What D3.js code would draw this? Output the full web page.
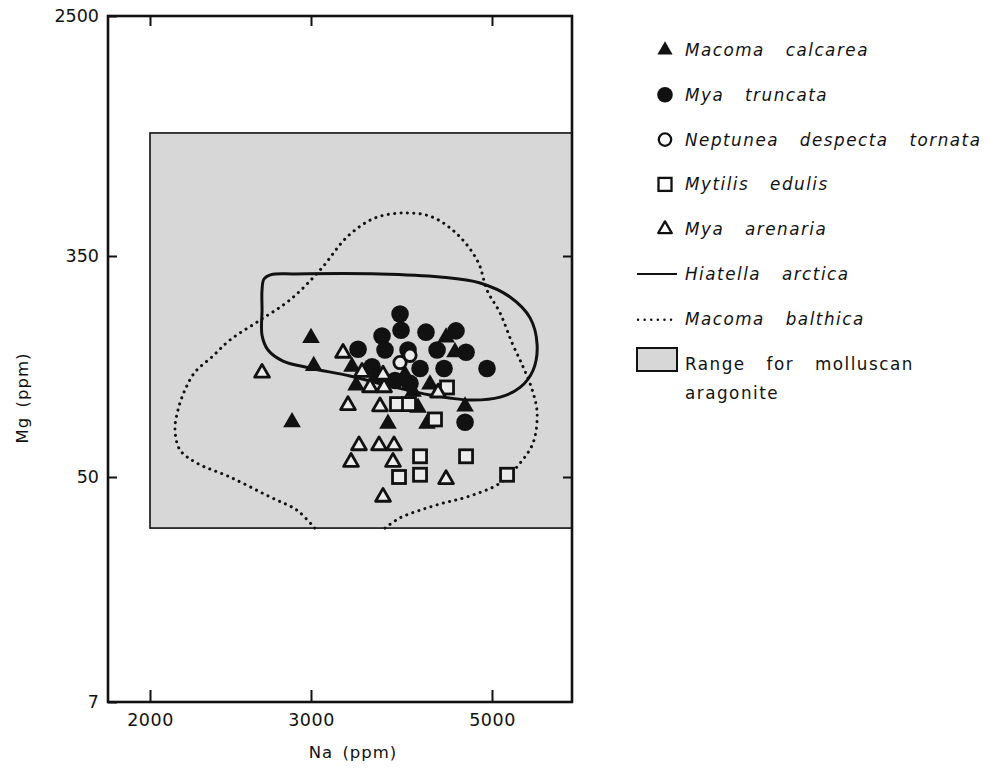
<!DOCTYPE html>
<html><head><meta charset="utf-8">
<script src="https://cdn.jsdelivr.net/npm/d3@7"></script>
<style>
body{margin:0;background:#fff}
text{font-family:"DejaVu Sans",sans-serif;fill:#111}
</style>
</head><body>
<svg id="chart" width="987" height="774"></svg>
<script>
// ---------- data (Na ppm, Mg ppm) ----------
const naTicks = [2000, 3000, 5000];
const mgTicks = [7, 50, 350, 2500];
const aragoniteNa = [2000, 6270];
const aragoniteMg = [32, 959];

const macomaCalcarea = [[3000,170],[3023,133],[2860,81],[3368,132],[3407,112],[3594,120],[3728,80],[3911,123],[4058,92],[4162,80],[4197,113],[4392,171],[4504,150],[4634,93],[4001,106]];
const myaTruncata = [[3857,210],[3666,173],[3868,182],[4150,179],[4517,181],[3426,154],[3697,153],[3945,153],[4282,153],[4647,150],[3564,132],[4081,130],[4367,130],[4930,130],[3803,117],[3967,114],[4634,81]];
const neptunea = [[3857,137],[3967,146]];
const mytilis = [[3824,95],[3956,95],[4257,83],[4404,110],[4081,60],[4647,60],[3846,50],[4081,51],[5217,51]];
const myaArenaria = [[2652,125],[3284,149],[3544,110],[3687,110],[3465,126],[3676,123],[3330,94],[3645,93],[3435,66],[3635,66],[3792,66],[3359,57],[3781,57],[4392,49],[3676,42],[4294,105]];
const hiatella = [[2652,217.6],[2652,259.5],[2665,285.8],[2713,297],[2882,299],[3645,299],[4318,291],[4834,276],[5261,244],[5567,203],[5679,160],[5615,128],[5412,110],[5115,101],[4699,98.5],[4197,103],[3749,111.4],[3349,121.7],[2990,130.6],[2796,138.8],[2692,153],[2652,174]];
const macomaBalthica = [[3031,32],[2896,37.4],[2706,42],[2446,50],[2251,56.5],[2157,63.4],[2130,75.6],[2146,90.2],[2184,107.6],[2240,126],[2338,144],[2446,167],[2639,199],[2846,238],[3077,309],[3330,412],[3594,478],[3911,498],[4221,482],[4542,416],[4807,332],[4930,259],[5115,212],[5291,163],[5458,132],[5599,108],[5679,88],[5615,67.5],[5412,56.5],[5115,47.4],[4660,42],[4355,39.8],[4081,37.4],[3857,35],[3697,32]];

const legendItems = [
  {label:"Macoma calcarea", kind:"ftri"},
  {label:"Mya truncata", kind:"fcirc"},
  {label:"Neptunea despecta tornata", kind:"ocirc"},
  {label:"Mytilis edulis", kind:"osq"},
  {label:"Mya arenaria", kind:"otri"},
  {label:"Hiatella arctica", kind:"solid"},
  {label:"Macoma balthica", kind:"dotted"}
];
const rangeLabel = ["Range for molluscan", "aragonite"];

// ---------- layout ----------
const L = 108, R = 572, T = 16, B = 702;
const GRAY = "#d7d7d7";
const svg = d3.select("#chart");

const x = d3.scaleLog().domain(naTicks).range([150, 311, 492]);
const y = d3.scaleLog().domain(mgTicks).range([702, 477, 256, 16]);

// aragonite range
svg.append("rect")
  .attr("x", x(aragoniteNa[0])).attr("y", y(aragoniteMg[1]))
  .attr("width", x(aragoniteNa[1]) - x(aragoniteNa[0]))
  .attr("height", y(aragoniteMg[0]) - y(aragoniteMg[1]))
  .attr("fill", GRAY).attr("stroke", "#111").attr("stroke-width", 1.6);

const line = d3.line().x(d => x(d[0])).y(d => y(d[1]));

svg.append("path").datum(macomaBalthica)
  .attr("d", line.curve(d3.curveCatmullRom.alpha(0.5)))
  .attr("fill", "none").attr("stroke", "#111").attr("stroke-width", 3)
  .attr("stroke-linecap", "round").attr("stroke-dasharray", "0.1 6.3");

svg.append("path").datum(hiatella)
  .attr("d", line.curve(d3.curveCatmullRomClosed.alpha(0.5)))
  .attr("fill", "none").attr("stroke", "#111").attr("stroke-width", 3);

// markers
const triFill = d3.symbol(d3.symbolTriangle, 135);
const triOpen = d3.symbol(d3.symbolTriangle, 95);
function drawFTri(g, data){
  g.selectAll(null).data(data).join("path")
   .attr("transform", d => `translate(${x(d[0])},${y(d[1])})`)
   .attr("d", triFill).attr("fill", "#111");
}
function drawFCirc(g, data){
  g.selectAll(null).data(data).join("circle")
   .attr("cx", d => x(d[0])).attr("cy", d => y(d[1])).attr("r", 8.8).attr("fill", "#111");
}
function drawOCirc(g, data, fill){
  g.selectAll(null).data(data).join("circle")
   .attr("cx", d => x(d[0])).attr("cy", d => y(d[1])).attr("r", 6.2)
   .attr("fill", fill).attr("stroke", "#111").attr("stroke-width", 2.8);
}
function drawOSq(g, data, fill){
  g.selectAll(null).data(data).join("rect")
   .attr("x", d => x(d[0]) - 6.5).attr("y", d => y(d[1]) - 6.5).attr("width", 13).attr("height", 13)
   .attr("fill", fill).attr("stroke", "#111").attr("stroke-width", 2.8);
}
function drawOTri(g, data, fill){
  g.selectAll(null).data(data).join("path")
   .attr("transform", d => `translate(${x(d[0])},${y(d[1])})`)
   .attr("d", triOpen).attr("fill", fill).attr("stroke", "#111")
   .attr("stroke-width", 2.8).attr("stroke-linejoin", "round");
}
const gm = svg.append("g");
drawFCirc(gm, myaTruncata);
drawFTri(gm, macomaCalcarea);
drawOSq(gm, mytilis, "#ececec");
drawOCirc(gm, neptunea, "#ececec");
drawOTri(gm, myaArenaria, "#ececec");

// axes (ticks inward)
const fmt = d3.format("d");
const gx = svg.append("g").attr("transform", `translate(0,${B})`)
  .call(d3.axisBottom(x).tickValues(naTicks).tickFormat(fmt).tickSizeInner(-12).tickSizeOuter(0).tickPadding(12));
const gy = svg.append("g").attr("transform", `translate(${L},0)`)
  .call(d3.axisLeft(y).tickValues(mgTicks).tickFormat(fmt).tickSizeInner(-9).tickSizeOuter(0).tickPadding(9));
const gt = svg.append("g").attr("transform", `translate(0,${T})`)
  .call(d3.axisTop(x).tickValues(naTicks).tickFormat("").tickSizeInner(-10).tickSizeOuter(0));
const gr = svg.append("g").attr("transform", `translate(${R},0)`)
  .call(d3.axisRight(y).tickValues(mgTicks.slice(1, 3)).tickFormat("").tickSizeInner(-9).tickSizeOuter(0));
[gx, gy, gt, gr].forEach(g => {
  g.select(".domain").remove();
  g.selectAll(".tick line").attr("stroke", "#111").attr("stroke-width", 2);
  g.selectAll("text").attr("font-family", "DejaVu Sans").attr("font-size", 17.5).attr("fill", "#111");
});
gx.selectAll("text").attr("letter-spacing", 0.5);

svg.append("rect").attr("x", L).attr("y", T).attr("width", R - L).attr("height", B - T)
  .attr("fill", "none").attr("stroke", "#111").attr("stroke-width", 2.6);

// axis titles
svg.append("text").attr("x", 353).attr("y", 758).attr("text-anchor", "middle")
  .attr("font-size", 16.5).attr("letter-spacing", 1).attr("word-spacing", 3).text("Na (ppm)");
svg.append("text").attr("transform", "translate(28,398) rotate(-90)").attr("text-anchor", "middle")
  .attr("font-size", 16.5).attr("letter-spacing", 1).attr("word-spacing", 3).text("Mg (ppm)");

// legend
const lg = svg.append("g");
const rowY = i => 50 + i * 44.8;
legendItems.forEach((it, i) => {
  const cy = rowY(i), cx = 665;
  const g = lg.append("g");
  if (it.kind === "ftri") g.append("path").attr("transform", `translate(${cx},${cy})`).attr("d", d3.symbol(d3.symbolTriangle, 100)).attr("fill", "#111");
  if (it.kind === "fcirc") g.append("circle").attr("cx", cx).attr("cy", cy).attr("r", 7.8).attr("fill", "#111");
  if (it.kind === "ocirc") g.append("circle").attr("cx", cx).attr("cy", cy).attr("r", 6.2).attr("fill", "#fff").attr("stroke", "#111").attr("stroke-width", 2.3);
  if (it.kind === "osq") g.append("rect").attr("x", cx - 6.5).attr("y", cy - 6.5).attr("width", 13).attr("height", 13).attr("fill", "#fff").attr("stroke", "#111").attr("stroke-width", 2.3);
  if (it.kind === "otri") g.append("path").attr("transform", `translate(${cx},${cy})`).attr("d", d3.symbol(d3.symbolTriangle, 80)).attr("fill", "#fff").attr("stroke", "#111").attr("stroke-width", 2.3).attr("stroke-linejoin", "round");
  if (it.kind === "solid") g.append("line").attr("x1", 637).attr("x2", 677).attr("y1", cy).attr("y2", cy).attr("stroke", "#111").attr("stroke-width", 2);
  if (it.kind === "dotted") g.append("line").attr("x1", 638).attr("x2", 677).attr("y1", cy + 1).attr("y2", cy + 1).attr("stroke", "#111").attr("stroke-width", 2.4).attr("stroke-linecap", "round").attr("stroke-dasharray", "0.1 6.5");
  lg.append("text").attr("x", 685).attr("y", cy).attr("dominant-baseline", "central")
    .attr("font-style", "italic").attr("font-size", 16.8).attr("letter-spacing", 1.5).attr("word-spacing", 14)
    .text(it.label);
});
lg.append("rect").attr("x", 637).attr("y", 348).attr("width", 40).attr("height", 23)
  .attr("fill", GRAY).attr("stroke", "#111").attr("stroke-width", 2);
rangeLabel.forEach((t, i) => {
  lg.append("text").attr("x", 685).attr("y", 364 + i * 29).attr("dominant-baseline", "central")
    .attr("font-size", 16.8).attr("letter-spacing", 1.5).attr("word-spacing", 14).text(t);
});
</script>
</body></html>
